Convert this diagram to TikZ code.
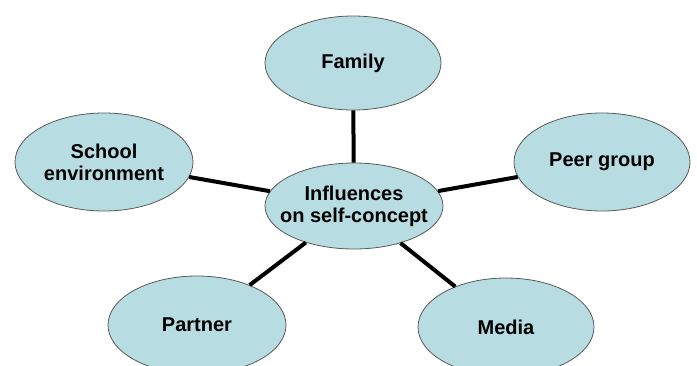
\documentclass[tikz,border=0pt]{standalone}
\usepackage{fontspec}
\setmainfont{Liberation Sans}
\usetikzlibrary{shapes.geometric}
\definecolor{bubble}{RGB}{183,221,227}
\tikzset{
	topic/.style={ellipse,draw=black!65,line width=0.8pt,fill=bubble,inner xsep=-14pt,inner ysep=0pt,
		minimum width=176pt,minimum height=98pt,align=center,
		font=\bfseries\fontsize{20}{22}\selectfont},
	link/.style={line width=4pt}
}

\begin{document}
\begin{tikzpicture}[x=1pt,y=-1pt]
		\clip (0,0) rectangle (697,365);
		\useasboundingbox (0,0) rectangle (697,365);
		\node[topic,minimum width=178pt,minimum height=86pt] (centre) at (354,206) {Influences\\on self-concept};
		\node[topic,minimum height=94pt] (fam) at (353,63) {Family};
		\node[topic,minimum width=178pt] (school) at (104,162) {School\\environment};
		\node[topic] (peer) at (602,162) {Peer group};
		\node[topic,minimum width=178pt] (partner) at (197,325) {Partner};
		\node[topic] (media) at (506,327) {Media};
		\draw[link] (centre) -- (fam);
		\draw[link] (centre) -- (school);
		\draw[link] (centre) -- (peer);
		\draw[link] (centre) -- (partner);
		\draw[link] (centre) -- (media);
	\end{tikzpicture}
\end{document}
